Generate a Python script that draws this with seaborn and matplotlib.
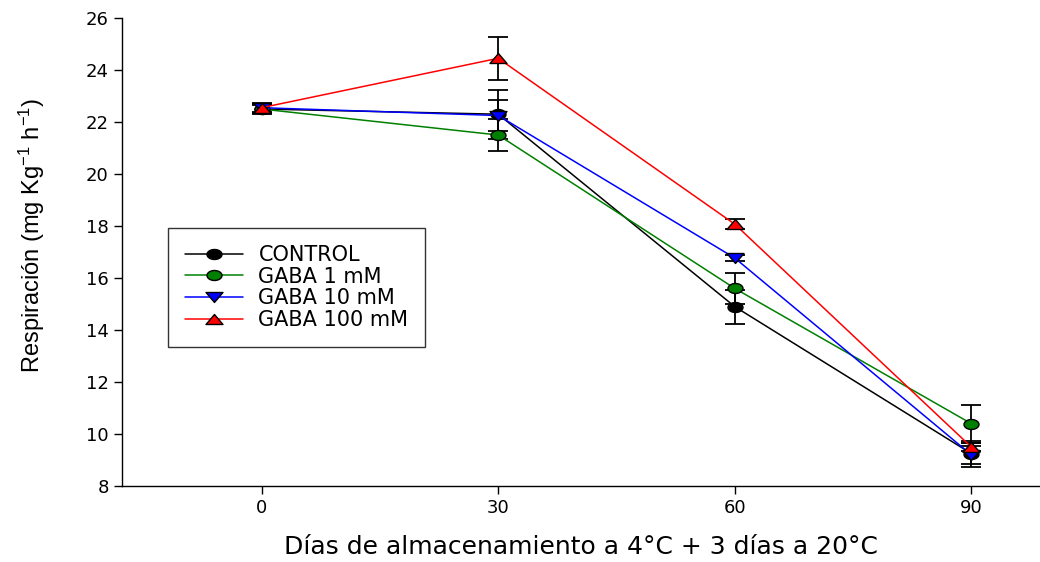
import matplotlib
matplotlib.use('Agg')
import matplotlib.pyplot as plt
from matplotlib.path import Path
import seaborn as sns
import numpy as np
import pandas as pd

dias = [0, 30, 60, 90]
tratamientos = ['CONTROL', 'GABA 1 mM', 'GABA 10 mM', 'GABA 100 mM']
control = [22.5, 22.3, 14.9, 9.25]
gaba1 = [22.5, 21.5, 15.6, 10.4]
gaba10 = [22.55, 22.25, 16.77, 9.2]
gaba100 = [22.55, 24.45, 18.07, 9.5]
err_control = [0.2, 0.95, 0.65, 0.5]
err_gaba1 = [0.15, 0.6, 0.6, 0.73]
err_gaba10 = [0.15, 0.6, 0.1, 0.35]
err_gaba100 = [0.2, 0.83, 0.2, 0.15]

colores = ['black', 'green', 'blue', 'red']

# marcadores algo achatados, como en la figura original
t = np.linspace(0, 2 * np.pi, 40)
elipse = Path(np.column_stack([1.5 * np.cos(t), np.sin(t)]), closed=True)
tri_abajo = Path([(-1.7, 1), (1.7, 1), (0, -1), (-1.7, 1)], closed=True)
tri_arriba = Path([(-1.7, -1), (1.7, -1), (0, 1), (-1.7, -1)], closed=True)
marcadores = [elipse, elipse, tri_abajo, tri_arriba]
tam = dict(zip(tratamientos, [10.8, 10.8, 12.2, 12.2]))

valores = [control, gaba1, gaba10, gaba100]
errores = [err_control, err_gaba1, err_gaba10, err_gaba100]

df = pd.DataFrame({
    'dias': dias * 4,
    'resp': sum(valores, []),
    'err': sum(errores, []),
    'trat': [t for t in tratamientos for _ in dias],
})

sns.set_style('ticks')
plt.rcParams['font.family'] = ['DejaVu Sans']
plt.rcParams['text.color'] = 'black'
plt.rcParams['axes.labelcolor'] = 'black'
plt.rcParams['mathtext.fontset'] = 'custom'
plt.rcParams['mathtext.rm'] = 'Liberation Sans'
plt.rcParams['mathtext.it'] = 'Liberation Sans'

fig = plt.figure(figsize=(10.4, 5.62), dpi=100)
ax = fig.add_axes([0.1173, 0.135, 0.882, 0.833])

for tr in tratamientos:
    d = df[df['trat'] == tr]
    ax.errorbar(d['dias'], d['resp'], yerr=d['err'], fmt='none', ecolor='black',
                elinewidth=1.3, capsize=7, capthick=1.3, zorder=2)

n_antes = len(ax.get_lines())
sns.lineplot(data=df, x='dias', y='resp', hue='trat', style='trat',
             palette=dict(zip(tratamientos, colores)),
             markers=dict(zip(tratamientos, marcadores)), dashes=False,
             markeredgecolor='black', markeredgewidth=1,
             linewidth=1.1, ax=ax, zorder=3)

for ln, tr in zip(ax.get_lines()[n_antes:], tratamientos):
    ln.set_markersize(tam[tr])

ax.set_xlim(-17.7, 98.6)
ax.set_ylim(8, 26)
ax.set_xticks(dias)
ax.set_yticks(range(8, 27, 2))
ax.tick_params(axis='both', labelsize=13, length=6, width=1, direction='out',
               colors='black')
for s in ['top', 'right']:
    ax.spines[s].set_visible(False)
for s in ['left', 'bottom']:
    ax.spines[s].set_linewidth(1)
    ax.spines[s].set_color('black')

ax.set_xlabel('Días de almacenamiento a 4°C + 3 días a 20°C', fontsize=18, labelpad=13)
ax.set_ylabel('Respiración (mg Kg$^{-1}$ h$^{-1}$)', fontsize=17,
              family='Liberation Sans')
ax.yaxis.set_label_coords(-0.098, 0.536)
ax.yaxis.label.set_va('center')

handles, labels = ax.get_legend_handles_labels()
for h, l in zip(handles, labels):
    h.set_markersize(tam[l])
leg = ax.legend(handles, labels, loc='upper left', bbox_to_anchor=(0.05, 0.551),
                fontsize=15, frameon=True, fancybox=False, edgecolor='black',
                borderpad=0.8, labelspacing=0.08, handlelength=2.8,
                handletextpad=0.75, borderaxespad=0)
leg.get_frame().set_linewidth(1)

fig.savefig('out.png', dpi=100)
